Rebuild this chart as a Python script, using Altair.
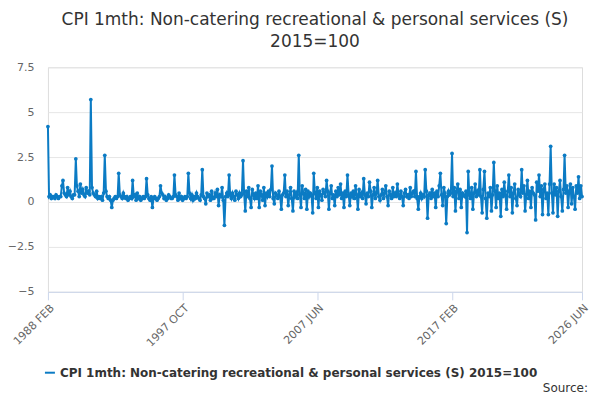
import altair as alt
import pandas as pd

# monthly values, 1988 FEB .. 2026 JUN
y1988 = [4.2, 0.3, 0.4, 0.2, 0.3, 0.3, 0.2, 0.4, 0.3, 0.2, 0.3]
y1989 = [0.3, 0.9, 1.2, 0.5, 0.4, 0.3, 0.8, 0.4, 0.6, 0.3, 0.2, 0.4]
y1990 = [0.4, 2.4, 0.9, 0.6, 0.3, 1.0, 0.5, 0.7, 0.4, 0.3, 0.8, 0.5]
y1991 = [0.6, 0.4, 5.7, 0.8, 0.5, 0.4, 0.3, 0.6, 0.2, 0.3, 0.2, 0.3]
y1992 = [0.1, 0.5, 2.6, 0.6, 0.3, 0.2, 0.3, 0.1, -0.3, 0.1, 0.2, 0.3]
y1993 = [0.2, 0.3, 1.6, 0.4, 0.3, 0.2, 0.5, 0.3, 0.2, 0.3, 0.1, 0.2]
y1994 = [0.3, 0.2, 1.2, 0.3, 0.4, 0.1, 0.5, 0.2, 0.3, 0.1, 0.2, 0.3]
y1995 = [0.2, 0.3, 1.3, 0.4, 0.2, 0.1, 0.3, -0.3, 0.2, 0.3, 0.2, 0.1]
y1996 = [0.2, 0.3, 0.9, 0.5, 0.4, 0.2, 0.3, 0.1, 0.2, 0.4, 0.3, 0.2]
y1997 = [0.2, 0.3, 1.5, 0.4, 0.3, 0.1, 0.5, 0.2, 0.3, 0.1, 0.2, 0.3]
y1998 = [0.2, 0.3, 1.6, 0.5, 0.2, 0.4, 0.1, 0.3, 0.2, 0.5, 0.3, 0.2]
y1999 = [0.1, 0.4, 1.8, 0.3, 0.2, -0.1, 0.5, 0.3, 0.4, 0.1, 0.6, 0.2]
y2000 = [0.2, 0.5, 0.3, 0.7, -0.2, 0.4, 0.3, 0.8, 0.1, -1.3, 0.3, 0.5]
y2001 = [0.3, 1.5, 0.4, 0.2, 0.5, 0.3, 0.1, 0.6, 0.4, 0.2, 0.5, 0.3]
y2002 = [0.4, 2.3, 0.5, -0.5, 0.6, 0.3, 0.8, 0.2, -0.3, 0.7, 0.4, 0.2]
y2003 = [0.5, 0.2, 0.9, -0.3, 0.6, 0.4, 0.1, 0.8, -0.2, 0.5, 0.3, 0.6]
y2004 = [0.3, 0.7, 2.0, 0.2, -0.1, 0.5, 0.4, 0.2, 0.6, 0.3, -0.4, 0.4]
y2005 = [0.5, 1.5, 0.3, 0.6, -0.2, 0.4, 0.8, 0.2, -0.5, 0.6, 0.3, 0.5]
y2006 = [0.2, 2.6, 0.4, -0.3, 0.9, 0.5, 0.2, 0.7, -0.4, 0.6, 0.3, 0.5]
y2007 = [0.4, -0.6, 1.6, 0.5, 0.2, 0.8, -0.3, 0.6, 0.4, 0.1, 0.7, 0.5]
y2008 = [0.3, 1.2, 0.6, -0.4, 0.5, 0.9, 0.2, 0.4, -0.2, 0.6, 0.3, 0.8]
y2009 = [0.4, 1.0, 0.2, 0.5, -0.3, 0.6, 0.3, 1.5, 0.4, -0.2, 0.5, 0.3]
y2010 = [0.6, 0.2, 0.9, 0.4, -0.4, 0.7, 0.3, 0.5, 0.2, 1.3, 0.4, -0.1]
y2011 = [0.5, 0.3, 1.1, 0.6, -0.3, 0.4, 0.8, 0.2, 0.5, 1.2, 0.3, 0.1]
y2012 = [0.4, 0.7, 0.2, 0.5, 0.9, 0.3, -0.2, 0.6, 0.4, 0.2, 0.8, 0.3]
y2013 = [0.5, 0.3, 1.0, 0.4, 0.2, 0.6, 0.3, -0.2, 0.5, 0.7, 0.3, 0.4]
y2014 = [0.2, 0.8, 0.3, 0.5, 0.6, 0.3, 1.7, 0.2, -0.4, 0.3, 0.5, 0.2]
y2015 = [0.4, 0.3, 1.8, 0.6, -0.9, 0.4, 0.5, 0.2, 0.7, 0.3, 0.5, -0.3]
y2016 = [0.6, 0.3, 0.9, 1.6, 0.4, -0.2, 0.8, 0.5, -1.2, 0.3, 0.6, 0.4]
y2017 = [0.5, 2.7, 0.3, 0.8, -0.5, 0.6, 1.0, 0.2, 0.7, -0.3, 0.5, 0.4]
y2018 = [0.3, 0.6, -1.7, 1.7, 0.4, 0.2, 0.8, -0.4, 0.5, 1.0, 0.3, 0.6]
y2019 = [0.4, 1.8, 0.3, -0.6, 0.7, 1.7, 0.2, -0.9, 0.5, 0.3, 0.8, -0.5]
y2020 = [0.4, 2.2, 0.6, -0.3, 0.9, 0.2, 0.5, -0.8, 0.7, 0.3, 1.1, 0.4]
y2021 = [-0.4, 0.6, 1.5, 0.3, 0.8, -0.6, 0.5, 1.0, 0.2, -0.2, 0.7, 0.4]
y2022 = [0.3, 1.8, 0.5, 0.9, -0.5, 0.4, 1.2, 0.2, 0.6, -0.3, 0.8, 0.5]
y2023 = [0.4, -1.0, 1.1, 0.6, 1.5, 0.3, 0.9, -0.7, 0.7, 1.0, 0.2, 0.5]
y2024 = [-0.7, 1.0, 3.1, 0.5, -0.6, 1.0, 0.4, 0.8, -0.8, 0.6, 1.2, 0.3]
y2025 = [-0.5, 0.7, 2.6, 0.5, 0.9, -0.3, 0.6, 1.0, -0.1, 0.8, 0.3, -0.4]
y2026 = [0.9, 0.5, 1.4, 0.2, 0.9, 0.3]

values = (y1988 + y1989 + y1990 + y1991 + y1992 + y1993 + y1994 + y1995 + y1996
          + y1997 + y1998 + y1999 + y2000 + y2001 + y2002 + y2003 + y2004 + y2005
          + y2006 + y2007 + y2008 + y2009 + y2010 + y2011 + y2012 + y2013 + y2014
          + y2015 + y2016 + y2017 + y2018 + y2019 + y2020 + y2021 + y2022 + y2023
          + y2024 + y2025 + y2026)
tick_dates = ["1988-02-01", "1997-10-01", "2007-06-01", "2017-02-01", "2026-06-01"]
series_name = "CPI 1mth: Non-catering recreational & personal services (S) 2015=100"

dates = pd.date_range("1988-02-01", periods=len(values), freq="MS")
df = pd.DataFrame({"date": dates, "value": values, "series": series_name})

color = "#0b7bc4"
tick_vals = [alt.DateTime(year=int(d[:4]), month=int(d[5:7]), date=1) for d in tick_dates]

base = alt.Chart(df).encode(
    x=alt.X(
        "date:T",
        title=None,
        scale=alt.Scale(domain=[tick_vals[0], tick_vals[-1]], nice=False),
        axis=alt.Axis(
            values=tick_vals,
            labelExpr="timeFormat(datum.value, '%Y ') + upper(timeFormat(datum.value, '%b'))",
            labelAngle=-45,
            labelAlign="right",
            labelColor="#666666",
            labelFontSize=11,
            grid=False,
            domainColor="#ccd6eb",
            tickColor="#ccd6eb",
            tickSize=8,
        ),
    ),
    y=alt.Y(
        "value:Q",
        title=None,
        scale=alt.Scale(domain=[-5, 7.5], nice=False),
        axis=alt.Axis(
            values=[-5, -2.5, 0, 2.5, 5, 7.5],
            format=".1~f",
            labelColor="#666666",
            labelFontSize=11,
            domain=False,
            ticks=False,
            gridColor="#e6e6e6",
            labelPadding=14,
        ),
    ),
    color=alt.Color(
        "series:N",
        scale=alt.Scale(range=[color]),
        legend=alt.Legend(
            title=None,
            orient="none",
            legendX=-4,
            legendY=300,
            symbolType="stroke",
            symbolStrokeWidth=2,
            labelFontSize=12,
            labelFontWeight="bold",
            labelColor="#333333",
            labelLimit=600,
        ),
    ),
)

line = base.mark_line(strokeWidth=2)
points = base.mark_point(filled=True, size=14, opacity=1)

source = alt.Chart(pd.DataFrame({"t": ["Source:"]})).mark_text(
    align="right", baseline="middle", fontSize=12, color="#333333"
).encode(text="t:N", x=alt.value(541), y=alt.value(321))

chart = (
    (line + points + source)
    .properties(
        width=535,
        height=225,
        autosize=alt.AutoSizeParams(type="none"),
        padding={"left": 40, "top": 59, "right": 10, "bottom": 100},
        title=alt.Title(
            ["CPI 1mth: Non-catering recreational & personal services (S)", "2015=100"],
            fontSize=17,
            fontWeight="normal",
            color="#333333",
            anchor="middle",
            offset=10,
            lineHeight=22,
        ),
    )
    .configure_view(stroke=None)
    .configure(font="DejaVu Sans")
)

chart.save("out.html", embed_options={"renderer": "svg", "actions": False})
